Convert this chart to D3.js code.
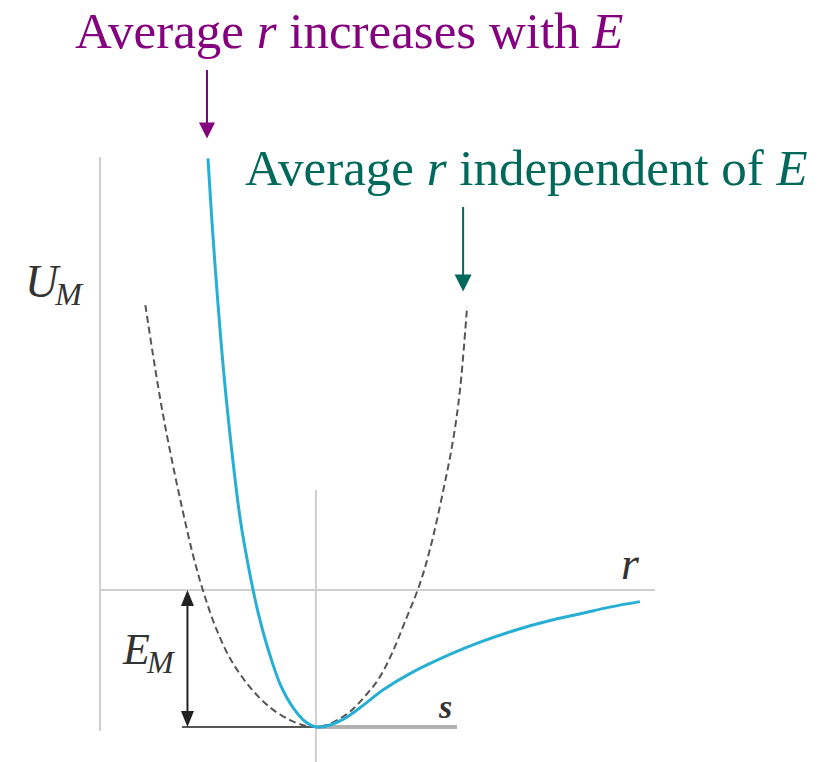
<!DOCTYPE html>
<html>
<head>
<meta charset="utf-8">
<script src="https://cdn.jsdelivr.net/npm/d3@7"></script>
<style>
  body { margin: 0; background: #fff; }
  svg { display: block; }
</style>
</head>
<body>
<svg id="chart" width="831" height="762"></svg>
<script>
// Morse potential (blue): r in units of r0, U in units of E_M
const morseR = [0.50, 0.518, 0.538, 0.56, 0.585, 0.615, 0.65, 0.69, 0.73, 0.78, 0.835, 0.895, 0.95, 1.00,
	1.065, 1.135, 1.22, 1.31, 1.435, 1.62, 1.76, 1.93, 2.08, 2.235, 2.36, 2.50];
const morseU = [3.15, 2.70, 2.26, 1.82, 1.39, 0.95, 0.51, 0.15, -0.15, -0.44, -0.69, -0.86, -0.96, -1.00,
	-0.985, -0.935, -0.84, -0.73, -0.61, -0.47, -0.38, -0.29, -0.225, -0.17, -0.125, -0.085];

// Harmonic approximation (dashed)
const harmR = [0.21, 0.245, 0.285, 0.33, 0.38, 0.43, 0.48, 0.54, 0.61, 0.70, 0.79, 0.88, 0.95, 1.00,
	1.05, 1.11, 1.17, 1.23, 1.29, 1.35, 1.41, 1.48, 1.53, 1.59, 1.635, 1.667, 1.70];
const harmU = [2.08, 1.72, 1.34, 0.97, 0.60, 0.26, -0.02, -0.29, -0.52, -0.72, -0.86, -0.95, -0.99, -1.00,
	-0.985, -0.94, -0.87, -0.77, -0.65, -0.47, -0.24, 0.04, 0.31, 0.73, 1.095, 1.46, 2.07];

const serif = '"Liberation Serif", "DejaVu Serif", "Times New Roman", serif';

const svg = d3.select('#chart');

// Chart units -> pixels
const xScale = d3.scaleLinear().domain([0, 2.57]).range([100, 655]);
const yScale = d3.scaleLinear().domain([-1, 3]).range([727, 179]);

const line = d3.line()
	.x(d => xScale(d[0]))
	.y(d => yScale(d[1]))
	.curve(d3.curveCatmullRom.alpha(0.5));

const morse = d3.zip(morseR, morseU);
const harm = d3.zip(harmR, harmU);

// Axes lines (light gray)
const axisColor = '#cfcfcf';
svg.append('line')
	.attr('x1', xScale(0)).attr('x2', xScale(0))
	.attr('y1', yScale(3.16)).attr('y2', yScale(-1.03))
	.attr('stroke', axisColor).attr('stroke-width', 2);
svg.append('line')
	.attr('x1', xScale(0)).attr('x2', xScale(2.57))
	.attr('y1', yScale(0)).attr('y2', yScale(0))
	.attr('stroke', axisColor).attr('stroke-width', 2);
svg.append('line')
	.attr('x1', xScale(1)).attr('x2', xScale(1))
	.attr('y1', yScale(0.73)).attr('y2', yScale(-1.26))
	.attr('stroke', axisColor).attr('stroke-width', 2);

// Baseline at U = -E_M
svg.append('line')
	.attr('x1', xScale(1)).attr('x2', xScale(1.653))
	.attr('y1', yScale(-1)).attr('y2', yScale(-1))
	.attr('stroke', '#b0b0b0').attr('stroke-width', 4);
svg.append('line')
	.attr('x1', xScale(0.38)).attr('x2', xScale(1))
	.attr('y1', yScale(-1)).attr('y2', yScale(-1))
	.attr('stroke', '#555').attr('stroke-width', 2);

// Curves
svg.append('path')
	.datum(harm)
	.attr('d', line)
	.attr('fill', 'none')
	.attr('stroke', '#555')
	.attr('stroke-width', 2)
	.attr('stroke-dasharray', '7,4');

svg.append('path')
	.datum(morse)
	.attr('d', line)
	.attr('fill', 'none')
	.attr('stroke', '#27afd3')
	.attr('stroke-width', 3);

// Vertical arrow helper
function arrow(x, yTop, yTip, color, headLen, headW, both) {
	const g = svg.append('g');
	g.append('line')
		.attr('x1', x).attr('x2', x)
		.attr('y1', both ? yTop + headLen - 2 : yTop).attr('y2', yTip - headLen + 2)
		.attr('stroke', color).attr('stroke-width', 2);
	g.append('path')
		.attr('d', `M${x - headW / 2},${yTip - headLen}L${x + headW / 2},${yTip - headLen}L${x},${yTip}Z`)
		.attr('fill', color);
	if (both) {
		g.append('path')
			.attr('d', `M${x - headW / 2},${yTop + headLen}L${x + headW / 2},${yTop + headLen}L${x},${yTop}Z`)
			.attr('fill', color);
	}
}

// E_M double arrow
arrow(xScale(0.405), yScale(0), yScale(-1), '#222', 16, 13, true);

// Annotation arrows pointing to curve tops
const purple = '#84007e';
const teal = '#00695c';
arrow(xScale(morseR[0]) - 1, 70, yScale(morseU[0]) - 20, purple, 16, 16, false);
arrow(xScale(harmR[harmR.length - 1]) - 4, 207, yScale(harmU[harmU.length - 1]) - 15, teal, 17, 17, false);

// Titles
const t1 = svg.append('text')
	.attr('x', 75).attr('y', 48)
	.attr('font-family', serif)
	.attr('font-size', 51)
	.attr('fill', purple);
t1.append('tspan').text('Average ');
t1.append('tspan').attr('font-style', 'italic').text('r');
t1.append('tspan').text(' increases with ');
t1.append('tspan').attr('font-style', 'italic').text('E');

const t2 = svg.append('text')
	.attr('x', 245).attr('y', 185)
	.attr('font-family', serif)
	.attr('font-size', 51)
	.attr('fill', teal);
t2.append('tspan').text('Average ');
t2.append('tspan').attr('font-style', 'italic').text('r');
t2.append('tspan').text(' independent of ');
t2.append('tspan').attr('font-style', 'italic').text('E');

// Axis labels
const labelColor = '#333';
const um = svg.append('text')
	.attr('x', 25).attr('y', 297)
	.attr('font-family', serif)
	.attr('font-size', 46)
	.attr('font-style', 'italic')
	.attr('fill', labelColor);
um.append('tspan').text('U');
um.append('tspan').attr('font-size', 32).attr('dy', 8).attr('dx', -3).text('M');

const em = svg.append('text')
	.attr('x', 123).attr('y', 664)
	.attr('font-family', serif)
	.attr('font-size', 44)
	.attr('font-style', 'italic')
	.attr('fill', labelColor);
em.append('tspan').text('E');
em.append('tspan').attr('font-size', 32).attr('dy', 9).attr('dx', -3).text('M');

svg.append('text')
	.attr('x', 621).attr('y', 579)
	.attr('font-family', serif)
	.attr('font-size', 46)
	.attr('font-style', 'italic')
	.attr('fill', labelColor)
	.text('r');

svg.append('text')
	.attr('x', 439).attr('y', 718)
	.attr('font-family', serif)
	.attr('font-size', 34)
	.attr('font-style', 'italic')
	.attr('font-weight', 'bold')
	.attr('fill', labelColor)
	.text('s');
</script>
</body>
</html>
